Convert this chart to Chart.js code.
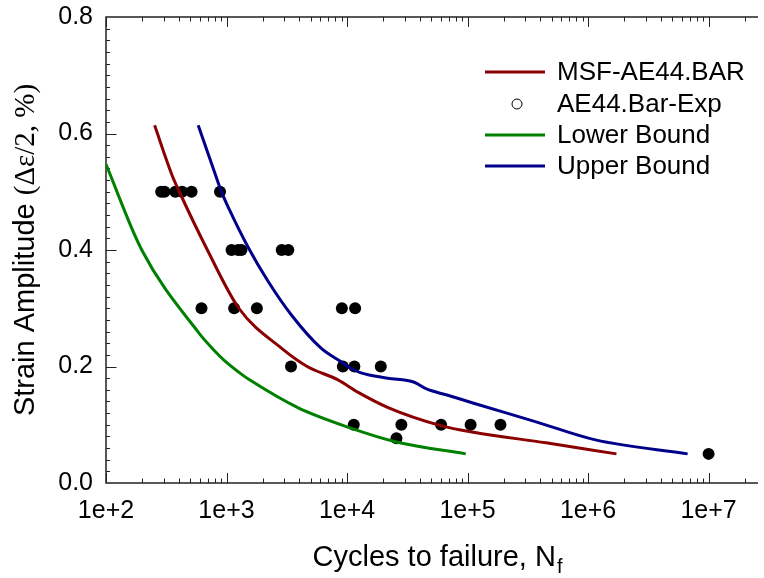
<!DOCTYPE html>
<html>
<head>
<meta charset="utf-8">
<script src="https://cdn.jsdelivr.net/npm/chart.js@4"></script>
<style>
html, body { margin: 0; padding: 0; background: #fff; }
canvas { display: block; }
</style>
</head>
<body>
<canvas id="myChart" width="764" height="578"></canvas>
<script>
/* Axis ticks */
var xTicks = [1e2, 1e3, 1e4, 1e5, 1e6, 1e7];
var xTickLabels = ['1e+2', '1e+3', '1e+4', '1e+5', '1e+6', '1e+7'];
var yTicks = [0, 0.2, 0.4, 0.6, 0.8];
var yTickLabels = ['0.0', '0.2', '0.4', '0.6', '0.8'];

/* Experimental points (cycles, strain amplitude %) */
var expCycles = [287, 306, 376, 428, 513, 883,
                 1101, 1248, 1330, 2871, 3257,
                 620, 1157, 1786, 9060, 11670,
                 3428, 9230, 11500, 19050,
                 11370, 28240, 60300, 106000, 187500,
                 25700, 10000000];
var expStrain = [0.5, 0.5, 0.5, 0.5, 0.5, 0.5,
                 0.4, 0.4, 0.4, 0.4, 0.4,
                 0.3, 0.3, 0.3, 0.3, 0.3,
                 0.2, 0.2, 0.2, 0.2,
                 0.1, 0.1, 0.1, 0.1, 0.1,
                 0.077, 0.05];

/* MSF-AE44.BAR model curve */
var msfCycles = [253, 354, 406, 694, 1265, 2871, 4670, 8400, 12270, 21660, 59100, 112500, 448000, 1720000];
var msfStrain = [0.614, 0.528, 0.50, 0.40, 0.30, 0.231, 0.200, 0.177, 0.156, 0.130, 0.099, 0.087, 0.069, 0.050];

/* Lower bound */
var lowCycles = [100, 198, 593, 813, 952, 1345, 1528, 3940, 10160, 26200, 96600];
var lowStrain = [0.547, 0.40, 0.257, 0.225, 0.211, 0.186, 0.178, 0.129, 0.096, 0.070, 0.050];

/* Upper bound */
var upCycles = [582, 813, 900, 1047, 1527, 2231, 3467, 6120, 8950, 10740, 13060, 21700, 36100, 46200, 67500, 112500, 370600, 1150000, 6700000];
var upStrain = [0.614, 0.528, 0.502, 0.471, 0.403, 0.345, 0.288, 0.231, 0.208, 0.197, 0.189, 0.180, 0.173, 0.161, 0.151, 0.137, 0.105, 0.074, 0.050];

function toXY(xs, ys) {
    return xs.map(function (v, i) { return { x: v, y: ys[i] }; });
}

var SANS = '"Liberation Sans", Arial, sans-serif';
var SERIF = '"Liberation Serif", "Times New Roman", serif';

function lineSet(label, color, xs, ys) {
    return {
        label: label,
        data: toXY(xs, ys),
        showLine: true,
        borderColor: color,
        backgroundColor: color,
        borderWidth: 3,
        pointRadius: 0,
        cubicInterpolationMode: 'monotone',
        order: 0
    };
}

const data = {
    datasets: [
        lineSet('MSF-AE44.BAR', '#8b0000', msfCycles, msfStrain),
        {
            label: 'AE44.Bar-Exp',
            data: toXY(expCycles, expStrain),
            showLine: false,
            pointRadius: 6,
            pointBorderWidth: 0,
            backgroundColor: '#000',
            borderColor: '#000',
            order: 1
        },
        lineSet('Lower Bound', '#008000', lowCycles, lowStrain),
        lineSet('Upper Bound', '#00008b', upCycles, upStrain)
    ]
};

/* Frame, inward ticks, axis titles and legend */
const decor = {
    id: 'decor',
    beforeDatasetsDraw(chart) {
        const ctx = chart.ctx, a = chart.chartArea;
        const xs = chart.scales.x, ys = chart.scales.y;
        function seg(x1, y1, x2, y2) {
            ctx.beginPath(); ctx.moveTo(x1, y1); ctx.lineTo(x2, y2); ctx.stroke();
        }
        ctx.save();
        ctx.strokeStyle = '#222';
        ctx.lineWidth = 1;
        for (let p = 2; p <= 7; p++) {
            for (let m = 1; m <= 9; m++) {
                const v = m * Math.pow(10, p);
                if (v > xs.max) break;
                const x = Math.round(xs.getPixelForValue(v)) + 0.5;
                const len = m === 1 ? 10 : 4.5;
                seg(x, a.bottom, x, a.bottom - len);
                seg(x, a.top, x, a.top + len);
            }
        }
        for (let i = 1; i < 40; i++) {
            const y = Math.round(ys.getPixelForValue(i * 0.02)) + 0.5;
            const len = i % 10 === 0 ? 10.5 : 4;
            seg(a.left, y, a.left + len, y);
        }
        ctx.lineWidth = 1.5;
        ctx.beginPath();
        ctx.moveTo(a.right, a.top);
        ctx.lineTo(a.left, a.top);
        ctx.lineTo(a.left, a.bottom);
        ctx.lineTo(a.right, a.bottom);
        ctx.stroke();
        ctx.restore();
    },
    afterDraw(chart) {
        const ctx = chart.ctx, a = chart.chartArea;
        ctx.save();
        ctx.fillStyle = '#000';
        ctx.textAlign = 'left';
        ctx.textBaseline = 'alphabetic';

        // x title with subscript
        ctx.font = '29px ' + SANS;
        const xt = 'Cycles to failure, N';
        const wx = ctx.measureText(xt).width;
        ctx.font = '20px ' + SANS;
        const wf = ctx.measureText('f').width;
        const x0 = 437 - (wx + wf) / 2;
        ctx.font = '29px ' + SANS;
        ctx.fillText(xt, x0, 566);
        ctx.font = '20px ' + SANS;
        ctx.fillText('f', x0 + wx + 1, 573);

        // y title
        ctx.translate(34, (a.top + a.bottom) / 2);
        ctx.rotate(-Math.PI / 2);
        const t1 = 'Strain Amplitude ', t2 = '(\u0394\u03b5/2, %)';
        ctx.font = '29px ' + SANS;
        const w1 = ctx.measureText(t1).width;
        ctx.font = '29px ' + SERIF;
        const w2 = ctx.measureText(t2).width;
        ctx.font = '29px ' + SANS;
        ctx.fillText(t1, -(w1 + w2) / 2, 0);
        ctx.font = '29px ' + SERIF;
        ctx.fillText(t2, -(w1 + w2) / 2 + w1, 0);
        ctx.setTransform(1, 0, 0, 1, 0, 0);

        // legend
        const rows = [72, 104, 135, 166];
        ctx.font = '26px ' + SANS;
        ctx.textBaseline = 'middle';
        chart.data.datasets.forEach(function (ds, i) {
            const y = rows[i];
            if (ds.showLine) {
                ctx.strokeStyle = ds.borderColor;
                ctx.lineWidth = 3;
                ctx.beginPath(); ctx.moveTo(485, y); ctx.lineTo(545, y); ctx.stroke();
            } else {
                ctx.strokeStyle = '#000';
                ctx.lineWidth = 1;
                ctx.beginPath(); ctx.arc(517, y, 5, 0, Math.PI * 2); ctx.stroke();
            }
            ctx.fillStyle = '#000';
            ctx.fillText(ds.label, 557, y + 1);
        });
        ctx.restore();
    }
};

const config = {
    type: 'scatter',
    data: data,
    plugins: [decor],
    options: {
        responsive: false,
        animation: false,
        layout: { padding: { top: 17, left: 0, right: 0, bottom: 0 } },
        plugins: { legend: { display: false }, tooltip: { enabled: false } },
        scales: {
            x: {
                type: 'logarithmic',
                min: 100,
                max: 2.57e7,
                afterBuildTicks: function (s) { s.ticks = xTicks.map(function (v) { return { value: v }; }); },
                afterFit: function (s) { s.height = 95; s.paddingLeft = 0; s.paddingRight = 0; },
                grid: { display: false, drawTicks: false },
                border: { display: false },
                ticks: {
                    autoSkip: false,
                    maxRotation: 0,
                    padding: 13,
                    color: '#000',
                    font: { family: SANS, size: 25 },
                    callback: function (v, i) { return xTickLabels[i]; }
                }
            },
            y: {
                min: 0,
                max: 0.8,
                afterBuildTicks: function (s) { s.ticks = yTicks.map(function (v) { return { value: v }; }); },
                afterFit: function (s) { s.width = 106; s.paddingTop = 0; s.paddingBottom = 0; },
                grid: { display: false, drawTicks: false },
                border: { display: false },
                ticks: {
                    padding: 13,
                    color: '#000',
                    font: { family: SANS, size: 25 },
                    callback: function (v, i) { return yTickLabels[i]; }
                }
            }
        }
    }
};

const myChart = new Chart(document.getElementById('myChart'), config);
</script>
</body>
</html>
